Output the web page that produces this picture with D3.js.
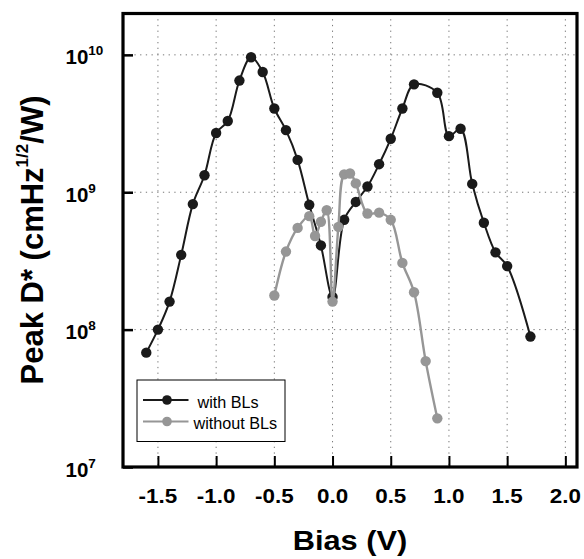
<!DOCTYPE html>
<html>
<head>
<meta charset="utf-8">
<script src="https://cdn.jsdelivr.net/npm/d3@7"></script>
<style>
  body { margin: 0; background: #fff; }
  text { font-family: "Liberation Sans", Arial, sans-serif; }
</style>
</head>
<body>
<svg id="chart" width="584" height="559"></svg>
<script>
// bias (V) and peak D* values
const withX = [-1.6, -1.5, -1.4, -1.3, -1.2, -1.1, -1.0, -0.9, -0.8, -0.7, -0.6, -0.5, -0.4, -0.3, -0.2, -0.1,
  0.0, 0.1, 0.2, 0.3, 0.4, 0.5, 0.6, 0.7, 0.9, 1.0, 1.1, 1.2, 1.3, 1.4, 1.5, 1.7];
const withY = [6.8e7, 1.0e8, 1.6e8, 3.5e8, 8.2e8, 1.33e9, 2.7e9, 3.3e9, 6.5e9, 9.6e9, 7.5e9, 4.07e9, 2.83e9, 1.72e9, 8.1e8, 4.1e8,
  1.73e8, 6.3e8, 8.5e8, 1.1e9, 1.6e9, 2.45e9, 4.07e9, 6.1e9, 5.3e9, 2.56e9, 2.9e9, 1.15e9, 6.0e8, 3.65e8, 2.9e8, 8.9e7];

const withoutX = [-0.5, -0.4, -0.3, -0.2, -0.15, -0.1, -0.05, 0.0, 0.05, 0.1, 0.15, 0.2, 0.3, 0.4, 0.5, 0.6, 0.7, 0.8, 0.9];
const withoutY = [1.77e8, 3.7e8, 5.5e8, 6.7e8, 4.8e8, 6.1e8, 7.4e8, 1.6e8, 5.6e8, 1.35e9, 1.37e9, 1.16e9, 7.0e8, 7.1e8,
  6.3e8, 3.06e8, 1.87e8, 5.9e7, 2.26e7];

const xTicks = [-1.5, -1.0, -0.5, 0.0, 0.5, 1.0, 1.5, 2.0];
const yTicks = [1e7, 1e8, 1e9, 1e10];

const seriesNames = ["with BLs", "without BLs"];
const seriesColors = ["#1a1a1a", "#969696"];

const series = [
  withX.map((x, i) => ({ x: x, y: withY[i] })),
  withoutX.map((x, i) => ({ x: x, y: withoutY[i] }))
];

const svg = d3.select("#chart");
const pLeft = 123, pRight = 577, pTop = 13.5, pBottom = 467;

const x = d3.scaleLinear().domain([-1.8, 2.1]).range([pLeft, pRight]);
const y = d3.scaleLog().domain([1e7, 2e10]).range([pBottom, pTop]);

// grid
const grid = svg.append("g")
  .attr("stroke", "#777")
  .attr("stroke-width", 1)
  .attr("stroke-dasharray", "1.3,4.4");

grid.selectAll(".gx")
  .data(xTicks)
  .enter().append("line")
  .attr("x1", d => x(d)).attr("x2", d => x(d))
  .attr("y1", pTop).attr("y2", pBottom);

grid.selectAll(".gy")
  .data(yTicks.filter(d => d > 1e7))
  .enter().append("line")
  .attr("x1", pLeft).attr("x2", pRight)
  .attr("y1", d => y(d)).attr("y2", d => y(d));

// axes: ticks only, labels drawn by hand below
svg.append("g")
  .attr("transform", `translate(0,${pBottom})`)
  .call(d3.axisBottom(x).tickValues(xTicks).tickSize(-11).tickFormat(""))
  .call(g => g.select(".domain").remove())
  .call(g => g.selectAll("line").attr("stroke", "#000").attr("stroke-width", 2));

svg.append("g")
  .attr("transform", `translate(${pLeft},0)`)
  .call(d3.axisLeft(y).tickValues(yTicks).tickSize(-10).tickFormat(""))
  .call(g => g.select(".domain").remove())
  .call(g => g.selectAll("line").attr("stroke", "#000").attr("stroke-width", 2.5));

// lines + markers
const line = d3.line()
  .x(d => x(d.x))
  .y(d => y(d.y))
  .curve(d3.curveCatmullRom.alpha(0.5));

series.forEach((s, i) => {
  svg.append("path")
    .datum(s)
    .attr("fill", "none")
    .attr("stroke", seriesColors[i])
    .attr("stroke-width", i == 0 ? 2 : 2.4)
    .attr("d", line);

  svg.append("g")
    .attr("fill", seriesColors[i])
    .selectAll("circle")
    .data(s)
    .enter().append("circle")
    .attr("cx", d => x(d.x))
    .attr("cy", d => y(d.y))
    .attr("r", 5.2);
});

// frame
svg.append("rect")
  .attr("x", pLeft).attr("y", pTop)
  .attr("width", pRight - pLeft).attr("height", pBottom - pTop)
  .attr("fill", "none")
  .attr("stroke", "#000")
  .attr("stroke-width", 3.2);

// x tick labels (slightly wide bold type)
svg.append("g")
  .selectAll("g")
  .data(xTicks)
  .enter().append("g")
  .attr("transform", d => `translate(${x(d)},503) scale(1.15,1)`)
  .append("text")
  .attr("text-anchor", "middle")
  .attr("font-size", 19.5)
  .attr("font-weight", "bold")
  .text(d => d.toFixed(1));

// y tick labels 10^n
const yl = svg.append("g")
  .selectAll("text")
  .data(yTicks)
  .enter().append("text")
  .attr("x", 65.5)
  .attr("y", d => y(d) + 9.5)
  .attr("font-weight", "bold")
  .attr("font-size", 20.5);
yl.append("tspan").text("10");
yl.append("tspan")
  .attr("font-size", 13.5)
  .attr("dy", -9)
  .text(d => Math.round(Math.log10(d)));

// axis titles
svg.append("g")
  .attr("transform", "translate(350,550) scale(1.14,1)")
  .append("text")
  .attr("text-anchor", "middle")
  .attr("font-size", 27)
  .attr("font-weight", "bold")
  .text("Bias (V)");

const yt = svg.append("text")
  .attr("transform", "translate(43,240) rotate(-90)")
  .attr("text-anchor", "middle")
  .attr("font-size", 31)
  .attr("font-weight", "bold");
yt.append("tspan").text("Peak D* (cmHz");
yt.append("tspan").attr("font-size", 17).attr("dy", -15).text("1/2");
yt.append("tspan").attr("dy", 15).text("/W)");

// legend
const lg = svg.append("g");
lg.append("rect")
  .attr("x", 137).attr("y", 380)
  .attr("width", 148).attr("height", 61.5)
  .attr("fill", "#fff")
  .attr("stroke", "#000")
  .attr("stroke-width", 1);

const rows = lg.selectAll(".row")
  .data(seriesNames)
  .enter().append("g")
  .attr("transform", (d, i) => `translate(0,${400 + i * 21.5})`);

rows.append("line")
  .attr("x1", 143).attr("x2", 188.5)
  .attr("stroke", (d, i) => seriesColors[i])
  .attr("stroke-width", 2.2);
rows.append("circle")
  .attr("cx", 167).attr("r", 4.8)
  .attr("fill", (d, i) => seriesColors[i]);
rows.append("text")
  .attr("x", (d, i) => i == 0 ? 197.5 : 193.5)
  .attr("y", 7.5)
  .attr("font-size", 16.2)
  .text(d => d);
</script>
</body>
</html>
